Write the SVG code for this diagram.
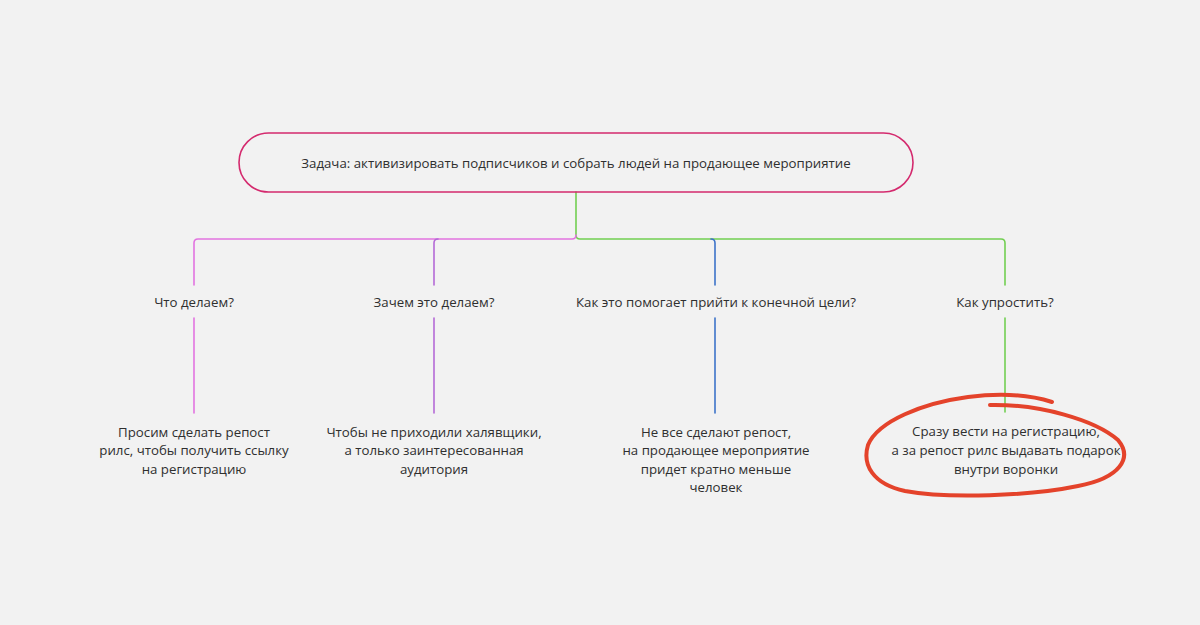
<svg xmlns="http://www.w3.org/2000/svg" width="1200" height="625" viewBox="0 0 1200 625">
<style>
text{font-family:"Open Sans","Noto Sans","Liberation Sans",sans-serif;font-size:13.25px;fill:#2f2f2f;text-anchor:middle}
.ln{fill:none;stroke-width:1.6;stroke-linecap:round}
.pink{stroke:#e274e0}.purple{stroke:#b46ad6}.blue{stroke:#3d73c9}.green{stroke:#72cf52}
</style>
<rect width="1200" height="625" fill="#f2f2f2"/>
<g id="connectors">
<path class="ln green" d="M576,192 V235 Q576,239 580,239 H1001 Q1005,239 1005,243 V285"/>
<path class="ln pink" d="M576,235 Q576,239 572,239 H198 Q194,239 194,243 V285"/>
<path class="ln purple" d="M438,239 Q434,239 434,243 V285"/>
<path class="ln blue" d="M711,239 Q715,239 715,243 V285"/>
<path class="ln pink" d="M194,318 V413"/>
<path class="ln purple" d="M434,318 V413"/>
<path class="ln blue" d="M715,318 V413"/>
<path class="ln green" d="M1005,318 V412"/>
</g>
<g id="root">
<rect x="239" y="133" width="674" height="59" rx="29.5" fill="none" stroke="#d42a6e" stroke-width="1.6"/>
<text x="576" y="167.5">Задача: активизировать подписчиков и собрать людей на продающее мероприятие</text>
</g>
<g id="q1"><text x="194" y="306.5">Что делаем?</text></g>
<g id="q2"><text x="434" y="306.5">Зачем это делаем?</text></g>
<g id="q3"><text x="716" y="306.5">Как это помогает прийти к конечной цели?</text></g>
<g id="q4"><text x="1005" y="306.5">Как упростить?</text></g>
<g id="a1">
<text x="194" y="436.5">Просим сделать репост</text>
<text x="194" y="455">рилс, чтобы получить ссылку</text>
<text x="194" y="473.5">на регистрацию</text>
</g>
<g id="a2">
<text x="434" y="436.5">Чтобы не приходили халявщики,</text>
<text x="434" y="455">а только заинтересованная</text>
<text x="434" y="473.5">аудитория</text>
</g>
<g id="a3">
<text x="716" y="436.5">Не все сделают репост,</text>
<text x="716" y="455">на продающее мероприятие</text>
<text x="716" y="473.5">придет кратно меньше</text>
<text x="716" y="492">человек</text>
</g>
<g id="a4">
<text x="1006" y="435.5">Сразу вести на регистрацию,</text>
<text x="1006" y="455">а за репост рилс выдавать подарок</text>
<text x="1006" y="473.5">внутри воронки</text>
</g>
<path id="circle" fill="none" stroke="#e4432b" stroke-width="4" stroke-linecap="round" stroke-linejoin="round" d="M990,405 C1040,404 1095,420 1118,440 C1133,458 1120,478 1078,486 C1030,496 948,499 905,491 C873,484 862,465 868,445 C878,421 923,403 968,397 C1000,393 1030,395 1052,402"/>
</svg>
